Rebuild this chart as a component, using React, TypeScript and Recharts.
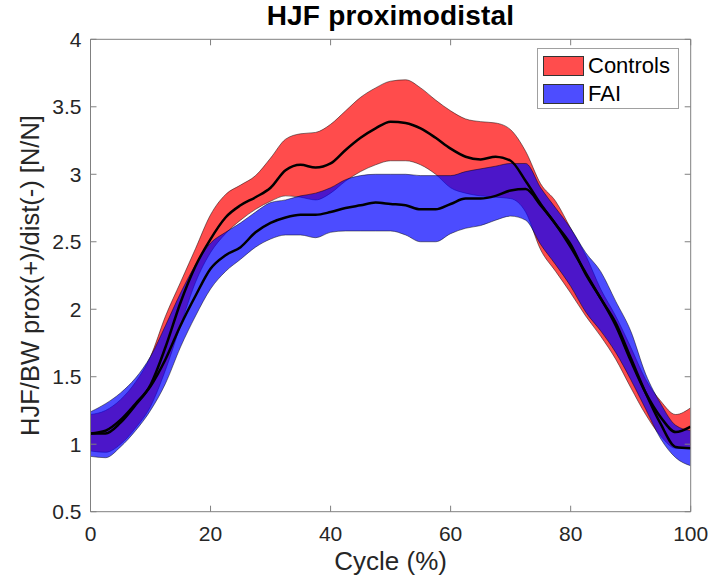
import React from "react";
import { ComposedChart, Area, Line, XAxis, YAxis } from "recharts";

// Gait cycle (%) sample points
const cycle = [
  0, 2.5, 5, 7.5, 10, 12.5, 15, 17.5, 20, 22.5, 25, 27.5, 30, 32.5, 35, 37.5, 40, 42.5, 45, 47.5, 50,
  52.5, 55, 57.5, 60, 62.5, 65, 67.5, 70, 72.5, 75, 77.5, 80, 82.5, 85, 87.5, 90, 92.5, 95, 97.5, 100,
];

// Controls: mean and +/- band
const controlsMean = [
  1.08, 1.08, 1.16, 1.29, 1.44, 1.72, 2.05, 2.32, 2.52, 2.68, 2.77, 2.83, 2.9, 3.03, 3.07, 3.05, 3.08,
  3.18, 3.27, 3.34, 3.39, 3.38, 3.34, 3.27, 3.19, 3.13, 3.11, 3.13, 3.1, 2.95, 2.78, 2.63, 2.48, 2.26,
  2.08, 1.88, 1.62, 1.38, 1.2, 1.09, 1.13,
];
const controlsUpper = [
  1.22, 1.25, 1.33, 1.46, 1.65, 1.95, 2.2, 2.45, 2.7, 2.85, 2.92, 2.99, 3.12, 3.26, 3.3, 3.31, 3.37,
  3.47, 3.57, 3.64, 3.69, 3.7, 3.64, 3.55, 3.47, 3.41, 3.39, 3.38, 3.33, 3.17, 2.93, 2.8, 2.6, 2.4,
  2.15, 1.95, 1.72, 1.48, 1.32, 1.22, 1.27,
];
const controlsLower = [
  0.95, 0.94, 1.0, 1.12, 1.28, 1.55, 1.88, 2.2, 2.42, 2.56, 2.66, 2.74, 2.8, 2.84, 2.83, 2.81, 2.86,
  2.95, 3.02, 3.07, 3.1, 3.1, 3.07, 3.0, 2.9, 2.86, 2.84, 2.83, 2.82, 2.72, 2.44, 2.28, 2.12, 1.95,
  1.8, 1.63, 1.42, 1.22, 1.06, 0.97, 0.97,
];

// FAI: mean and +/- band
const faiMean = [
  1.08, 1.1, 1.18, 1.3, 1.43, 1.63, 1.88, 2.1, 2.3, 2.4, 2.46, 2.57, 2.64, 2.68, 2.7, 2.7, 2.72, 2.75,
  2.77, 2.79, 2.78, 2.77, 2.74, 2.74, 2.78, 2.82, 2.82, 2.84, 2.88, 2.89, 2.77, 2.63, 2.46, 2.27, 2.08,
  1.9, 1.64, 1.38, 1.15, 0.98, 0.97,
];
const faiUpper = [
  1.24, 1.3, 1.38, 1.49, 1.65, 1.88, 2.12, 2.33, 2.49, 2.57, 2.64, 2.72, 2.79, 2.81, 2.84, 2.86, 2.9,
  2.96, 2.99, 3.0, 3.0, 3.0, 2.99, 2.99, 2.99, 3.02, 3.04, 3.06, 3.08, 3.08, 2.9, 2.75, 2.6, 2.42, 2.28,
  2.06, 1.84, 1.52, 1.3, 1.14, 1.1,
];
const faiLower = [
  0.91, 0.9, 0.98, 1.1, 1.25, 1.45, 1.72, 1.95, 2.15, 2.28, 2.37, 2.46, 2.52, 2.55, 2.55, 2.53, 2.57,
  2.58, 2.58, 2.58, 2.58, 2.55, 2.5, 2.5, 2.56, 2.6, 2.62, 2.66, 2.69, 2.66, 2.48, 2.33, 2.17, 1.98,
  1.84, 1.68, 1.48, 1.26, 1.04, 0.9, 0.84,
];

const xTicks = [0, 20, 40, 60, 80, 100];
const yTicks = [0.5, 1, 1.5, 2, 2.5, 3, 3.5, 4];

const FONT = "'Liberation Sans', Arial, Helvetica, sans-serif";
const AXIS = "#808080";
const TEXT = "#262626";

const data = cycle.map((x, i) => ({
  x,
  ctrlBand: [controlsLower[i], controlsUpper[i]],
  ctrlMean: controlsMean[i],
  faiBand: [faiLower[i], faiUpper[i]],
  faiMean: faiMean[i],
}));

// tick marks only, no text (for the inward MATLAB-style ticks)
const NoLabel = () => <g />;

export default function App() {
  return (
    <div style={{ position: "absolute", left: 0, top: 0, width: 712, height: 582, background: "#fff", fontFamily: FONT }}>
      {/* title */}
      <div
        style={{
          position: "absolute",
          left: 90.5,
          width: 600,
          top: 1,
          textAlign: "center",
          fontWeight: "bold",
          fontSize: 28,
          lineHeight: "30px",
          color: "#000",
          letterSpacing: 0.2,
        }}
      >
        HJF proximodistal
      </div>
      <ComposedChart width={712} height={582} data={data} margin={{ top: 39.3, right: 21.3, bottom: 0, left: 30.5 }}>
        {/* labelled axes */}
        <XAxis
          dataKey="x"
          type="number"
          domain={[0, 100]}
          ticks={xTicks}
          interval={0}
          allowDataOverflow
          height={70.3}
          tickSize={0}
          tickMargin={14}
          tickLine={false}
          axisLine={{ stroke: AXIS }}
          tick={{ fontSize: 21, fill: TEXT, fontFamily: FONT }}
          label={{ value: "Cycle (%)", position: "insideBottom", offset: 12, fontSize: 26, fill: TEXT, fontFamily: FONT }}
        />
        <YAxis
          type="number"
          domain={[0.5, 4]}
          ticks={yTicks}
          interval={0}
          allowDataOverflow
          width={60}
          tickSize={0}
          tickMargin={9}
          tickLine={false}
          axisLine={{ stroke: AXIS }}
          tick={{ fontSize: 21, fill: TEXT, fontFamily: FONT }}
          label={{
            value: "HJF/BW prox(+)/dist(-) [N/N]",
            angle: -90,
            position: "center",
            dx: -31,
            fontSize: 25.5,
            fill: TEXT,
            fontFamily: FONT,
          }}
        />
        {/* inward tick marks and box, MATLAB style */}
        <XAxis xAxisId="xb" dataKey="x" type="number" domain={[0, 100]} ticks={xTicks} interval={0} allowDataOverflow
          orientation="bottom" mirror tick={NoLabel} axisLine={false} tickLine={{ stroke: AXIS }} tickSize={6} />
        <XAxis xAxisId="xt" dataKey="x" type="number" domain={[0, 100]} ticks={xTicks} interval={0} allowDataOverflow
          orientation="top" mirror tick={NoLabel} axisLine={{ stroke: AXIS }} tickLine={{ stroke: AXIS }} tickSize={6} />
        <YAxis yAxisId="yl" type="number" domain={[0.5, 4]} ticks={yTicks} interval={0} allowDataOverflow
          orientation="left" mirror tick={NoLabel} axisLine={false} tickLine={{ stroke: AXIS }} tickSize={6} />
        <YAxis yAxisId="yr" type="number" domain={[0.5, 4]} ticks={yTicks} interval={0} allowDataOverflow
          orientation="right" mirror tick={NoLabel} axisLine={{ stroke: AXIS }} tickLine={{ stroke: AXIS }} tickSize={6} />

        <Area
          type="monotone"
          dataKey="ctrlBand"
          fill="#ff0000"
          fillOpacity={0.7}
          stroke="#000"
          strokeWidth={0.6}
          strokeOpacity={0.8}
          isAnimationActive={false}
          activeDot={false}
        />
        <Line type="monotone" dataKey="ctrlMean" stroke="#000" strokeWidth={2.5} dot={false} activeDot={false} isAnimationActive={false} />
        <Area
          type="monotone"
          dataKey="faiBand"
          fill="#0000ff"
          fillOpacity={0.7}
          stroke="#000"
          strokeWidth={0.6}
          strokeOpacity={0.8}
          isAnimationActive={false}
          activeDot={false}
        />
        <Line type="monotone" dataKey="faiMean" stroke="#000" strokeWidth={2.5} dot={false} activeDot={false} isAnimationActive={false} />
      </ComposedChart>
      {/* legend */}
      <div
        style={{
          position: "absolute",
          left: 537,
          top: 48,
          width: 142,
          height: 61,
          background: "#fff",
          border: "1px solid #a0a0a0",
          boxSizing: "border-box",
        }}
      >
        {[
          { name: "Controls", color: "#ff4d4d" },
          { name: "FAI", color: "#4d4dff" },
        ].map((item, i) => (
          <div key={item.name} style={{ position: "absolute", left: 5, top: 6 + i * 28, height: 21, display: "flex", alignItems: "center" }}>
            <span style={{ display: "inline-block", width: 41, height: 20, background: item.color, border: "1px solid #333", boxSizing: "border-box" }} />
            <span style={{ marginLeft: 4, fontSize: 22, color: "#000", lineHeight: "21px" }}>{item.name}</span>
          </div>
        ))}
      </div>
    </div>
  );
}
